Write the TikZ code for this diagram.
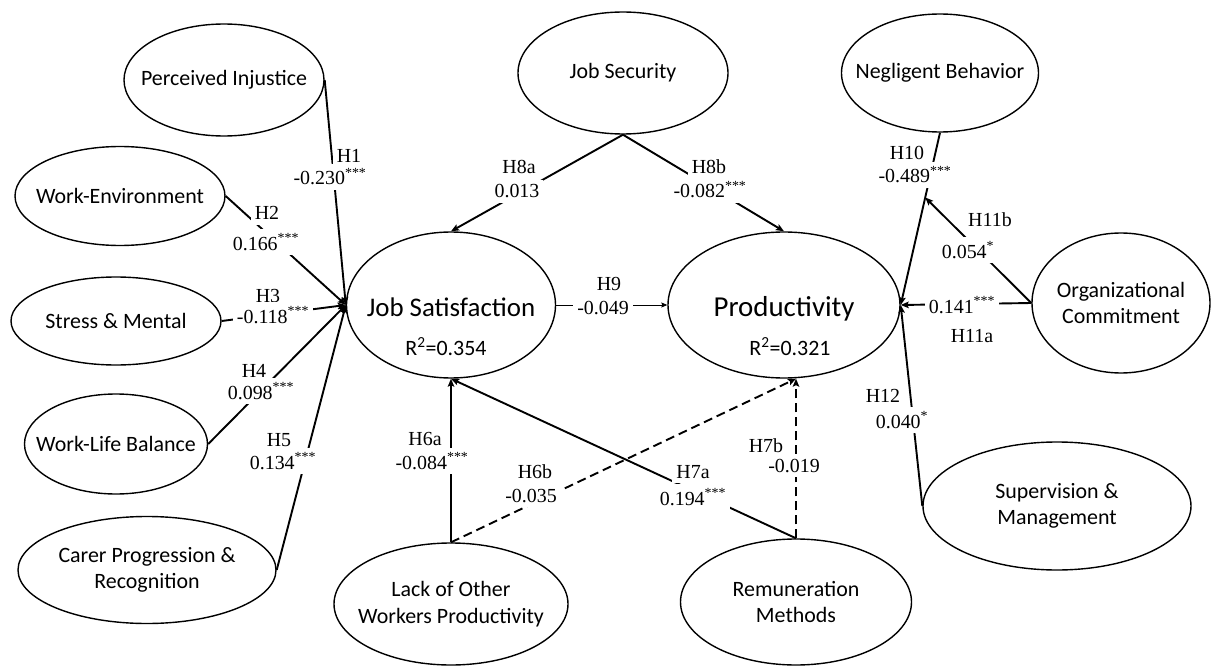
\documentclass[tikz,border=0pt]{standalone}
\usepackage{fontspec}
\setmainfont{Liberation Serif}
\newfontfamily\carlito{Carlito}
\usetikzlibrary{shapes.geometric,arrows.meta,calc}
\newcommand{\stars}[1]{\textsuperscript{#1}}

\begin{document}
\begin{tikzpicture}[x=1bp,y=-1bp,
  latent/.style={ellipse, draw, line width=1.4bp, inner sep=0pt},
  name text/.style={font=\carlito\fontsize{22}{26.5}\selectfont, align=center},
  conn/.style={line width=1.9bp, -{Stealth[length=8bp,width=6.5bp,inset=1.5bp]}},
  dconn/.style={conn, dash pattern=on 9bp off 5bp},
  weak/.style={line width=0.8bp, -{Stealth[length=6bp,width=5bp,inset=1bp]}},
  coef/.style={fill=white, inner xsep=4bp, inner ysep=4.5bp, anchor=base, font=\fontsize{20}{22}\selectfont},
]
\useasboundingbox (0,0) rectangle (1214,666);

% latent constructs
\node[latent, minimum width=200bp, minimum height=112bp,
      label={[name text]center:Perceived Injustice}] (pi) at (224,80) {};
\node[latent, minimum width=210bp, minimum height=99bp,
      label={[name text]center:Work-Environment}] (we) at (120,196) {};
\node[latent, minimum width=210bp, minimum height=88bp,
      label={[name text]center:Stress \& Mental}] (sm) at (116,321) {};
\node[latent, minimum width=183bp, minimum height=100bp,
      label={[name text]center:Work-Life Balance}] (wlb) at (116,444) {};
\node[latent, minimum width=258bp, minimum height=107bp,
      label={[name text]center:{Carer Progression \&\\Recognition}}] (cpr) at (147,570) {};
\node[latent, minimum width=210bp, minimum height=122bp,
      label={[name text]center:Job Security}] (jsec) at (623,73) {};
\node[latent, minimum width=197bp, minimum height=118bp,
      label={[name text]center:Negligent Behavior}] (nb) at (940,73) {};
\node[latent, minimum width=178bp, minimum height=140bp,
      label={[name text]center:{Organizational\\Commitment}}] (oc) at (1121,303) {};
\node[latent, minimum width=268bp, minimum height=128bp,
      label={[name text]center:{Supervision \&\\Management}}] (sup) at (1057,506) {};
\node[latent, minimum width=234bp, minimum height=122bp,
      label={[name text]center:{Lack of Other\\Workers Productivity}}] (lack) at (451,604) {};
\node[latent, minimum width=231bp, minimum height=126bp,
      label={[name text]center:{Remuneration\\Methods}}] (rem) at (796,602) {};

% endogenous constructs
\node[latent, minimum width=209bp, minimum height=146bp,
      label={[name text, font=\carlito\fontsize{27}{32}\selectfont, yshift=-2bp]center:Job Satisfaction}] (js) at (451,305) {};
\node[anchor=base, font=\carlito\fontsize{22}{26}\selectfont] (jsr) at (446,355) {R\textsuperscript{2}=0.354};
\node[latent, minimum width=232bp, minimum height=146bp,
      label={[name text, font=\carlito\fontsize{29}{34}\selectfont, yshift=-4bp]center:Productivity}] (prod) at (784,305) {};
\node[anchor=base, font=\carlito\fontsize{22}{26}\selectfont] (prodr) at (790,355) {R\textsuperscript{2}=0.321};

% structural paths
\draw[conn] (pi.east) -- (js.west);
\draw[conn] (we.east) -- (js.west);
\draw[conn] (sm.east) -- (js.west);
\draw[conn] (wlb.east) -- (js.west);
\draw[conn] (cpr.east) -- (js.west);
\draw[conn] (jsec.south) -- (js.north);
\draw[conn] (jsec.south) -- (prod.north);
\draw[weak] (js.east) -- (prod.west);
\draw[conn] (lack.north) -- (js.south);
\draw[dconn] (lack.north) -- (rem.north |- prod.south);
\draw[conn] (rem.north) -- (js.south);
\draw[dconn] (rem.north) -- (rem.north |- prod.south);
\draw[conn] (nb.south) -- (prod.east);
\coordinate (m10) at ($(nb.south)!0.376!(prod.east)$);
\draw[conn] (oc.west) -- (m10);
\draw[conn] (oc.west) -- (prod.east);
\draw[conn] (sup.west) -- (prod.east);

% path coefficients
\node[coef] (h1)   at (349,163) {H1};
\node[coef] (h1v)  at (330,185) {-0.230\stars{***}};
\node[coef] (h2)   at (267,220) {H2};
\node[coef] (h2v)  at (266,250) {0.166\stars{***}};
\node[coef] (h3)   at (268,302) {H3};
\node[coef] (h3v)  at (273,323) {-0.118\stars{***}};
\node[coef] (h4)   at (254,377) {H4};
\node[coef] (h4v)  at (261,399) {0.098\stars{***}};
\node[coef] (h5)   at (279,446) {H5};
\node[coef] (h5v)  at (283,469) {0.134\stars{***}};
\node[coef] (h8a)  at (519,174) {H8a};
\node[coef] (h8av) at (517,198) {0.013};
\node[coef] (h8b)  at (709,174) {H8b};
\node[coef] (h8bv) at (710,198) {-0.082\stars{***}};
\node[coef] (h9)   at (609,290) {H9};
\node[coef] (h9v)  at (603,314) {-0.049};
\node[coef] (h6a)  at (425,445) {H6a};
\node[coef] (h6av) at (432,469) {-0.084\stars{***}};
\node[coef] (h6b)  at (535,478) {H6b};
\node[coef] (h6bv) at (531,502) {-0.035};
\node[coef] (h7a)  at (693,478) {H7a};
\node[coef] (h7av) at (693,505) {0.194\stars{***}};
\node[coef] (h7b)  at (766,452) {H7b};
\node[coef] (h7bv) at (794,472) {-0.019};
\node[coef] (h10)  at (907,160) {H10};
\node[coef] (h10v) at (915,183) {-0.489\stars{***}};
\node[coef] (h11b) at (990,227) {H11b};
\node[coef] (h11bv) at (968,258) {0.054\stars{*}};
\node[coef] (h11av) at (962,313) {0.141\stars{***}};
\node[coef] (h11a) at (972,342) {H11a};
\node[coef] (h12)  at (883,402) {H12};
\node[coef] (h12v) at (902,428) {0.040\stars{*}};
\end{tikzpicture}
\end{document}
